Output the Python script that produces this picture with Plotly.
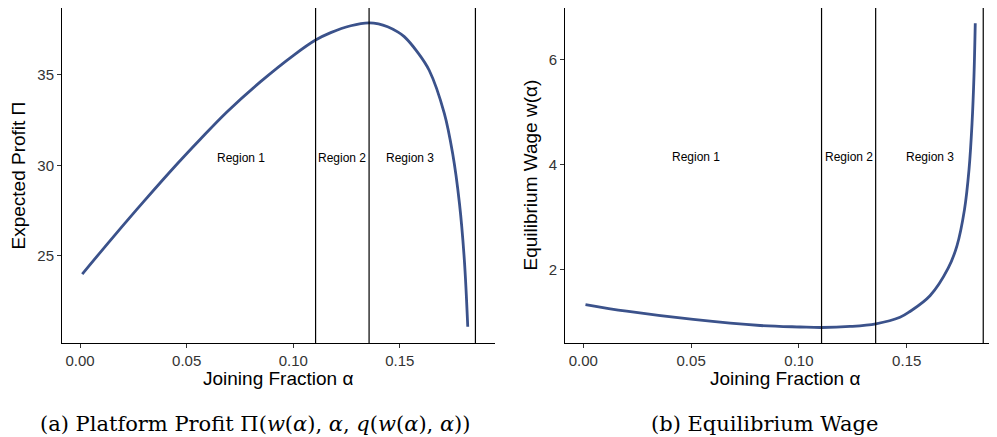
import plotly.graph_objects as go

# ---- data ----
alpha_profit = [0.001, 0.0157, 0.0298, 0.0455, 0.0564, 0.069, 0.0847, 0.1003, 0.1105,
                0.1176, 0.127, 0.1356, 0.1400, 0.1443, 0.149, 0.1521, 0.1584, 0.1638,
                0.1709, 0.1748, 0.178, 0.1803, 0.1819]
profit = [24.0, 26.07, 28.0, 30.08, 31.45, 32.97, 34.63, 36.10, 36.93,
          37.34, 37.72, 37.88, 37.82, 37.66, 37.38, 37.12, 36.25, 35.26,
          32.88, 30.67, 27.91, 24.78, 21.09]

alpha_wage = [0.001, 0.0201, 0.051, 0.082, 0.1005, 0.1106, 0.1237, 0.1357, 0.1469,
              0.1515, 0.1608, 0.1693, 0.1733, 0.1768, 0.1789, 0.1803, 0.1812, 0.1818]
wage = [1.333, 1.206, 1.048, 0.933, 0.905, 0.895, 0.915, 0.966, 1.09,
        1.2, 1.5, 2.03, 2.45, 3.14, 3.9, 4.78, 5.68, 6.69]

region_bounds = [0.1105, 0.1356, 0.1855]
region_labels = ["Region 1", "Region 2", "Region 3"]
region_x_profit = [0.0757, 0.1228, 0.155]
region_y_profit = 30.4
region_x_wage = [0.0523, 0.1232, 0.1608]
region_y_wage = 4.14

x_ticks = [0.0, 0.05, 0.10, 0.15]
x_ticktext = ["0.00", "0.05", "0.10", "0.15"]
profit_ticks = [25, 30, 35]
wage_ticks = [2, 4, 6]

captions = ["(a) Platform Profit Π(<i>w</i>(<i>α</i>), <i>α</i>, <i>q</i>(<i>w</i>(<i>α</i>), <i>α</i>))",
            "(b) Equilibrium Wage"]

# ---- figure ----
# the page body has an 8px margin, so the figure is laid out in page pixels minus 8
OFF = 8
W, H = 989, 429
LINE = "#3B528B"
SANS = "Liberation Sans, Arial, sans-serif"
SERIF = "DejaVu Serif, serif"


def px(p):
    return (p - OFF) / W


def py(p):
    return 1 - (p - OFF) / H


fig = go.Figure()
fig.add_trace(go.Scatter(x=alpha_profit, y=profit, mode="lines",
                         line=dict(color=LINE, width=2.8, shape="spline", smoothing=1.0),
                         xaxis="x", yaxis="y", showlegend=False))
fig.add_trace(go.Scatter(x=alpha_wage, y=wage, mode="lines",
                         line=dict(color=LINE, width=2.8, shape="spline", smoothing=1.0),
                         xaxis="x2", yaxis="y2", showlegend=False))

ydom = [py(343), 1.0]

axis_common = dict(showline=True, linecolor="black", linewidth=1, ticks="outside",
                   ticklen=4, tickcolor="#333", tickwidth=1, showgrid=False, zeroline=False,
                   tickfont=dict(family=SANS, size=15, color="#333"))

fig.update_layout(
    width=W, height=H, margin=dict(l=0, r=0, t=0, b=0),
    paper_bgcolor="white", plot_bgcolor="white",
    xaxis=dict(domain=[px(62), px(494.6)], range=[-0.0085, 0.1945], anchor="y",
               tickvals=x_ticks, ticktext=x_ticktext, **axis_common),
    yaxis=dict(domain=ydom, range=[20.19, 38.7], anchor="x",
               tickvals=profit_ticks, **axis_common),
    xaxis2=dict(domain=[px(565), 1.0], range=[-0.0085, (997 - 583.3) / 2156], anchor="y2",
                tickvals=x_ticks, ticktext=x_ticktext, **axis_common),
    yaxis2=dict(domain=ydom, range=[0.6, 6.98], anchor="x2",
                tickvals=wage_ticks, **axis_common),
)

shapes = []
for xr, yr in [("x", "y"), ("x2", "y2")]:
    for b in region_bounds:
        shapes.append(dict(type="line", xref=xr, yref=yr + " domain",
                           x0=b, x1=b, y0=0, y1=1, line=dict(color="black", width=1.2)))
fig.update_layout(shapes=shapes)

ann = []
for lab, xv in zip(region_labels, region_x_profit):
    ann.append(dict(x=xv, y=region_y_profit, xref="x", yref="y", text=lab, showarrow=False,
                    xanchor="center", yanchor="middle",
                    font=dict(family=SANS, size=12, color="black")))
for lab, xv in zip(region_labels, region_x_wage):
    ann.append(dict(x=xv, y=region_y_wage, xref="x2", yref="y2", text=lab, showarrow=False,
                    xanchor="center", yanchor="middle",
                    font=dict(family=SANS, size=12, color="black")))


def paper_text(x, y, text, font, angle=0):
    return dict(x=px(x), y=py(y), xref="paper", yref="paper", text=text, showarrow=False,
                xanchor="center", yanchor="middle", textangle=angle, font=font)


title_font = dict(family=SANS, size=19, color="black")
ann.append(paper_text(278, 378, "Joining Fraction α", title_font))
ann.append(paper_text(784.5, 378, "Joining Fraction α", title_font))
ann.append(paper_text(18, 175.5, "Expected Profit Π", title_font, -90))
ann.append(paper_text(530, 175.5, "Equilibrium Wage w(α)", title_font, -90))

cap_font = dict(family=SERIF, size=21, color="black")
ann.append(paper_text(256, 424, captions[0], cap_font))
ann.append(paper_text(764.7, 424, captions[1], cap_font))
fig.update_layout(annotations=ann)

fig.write_html("out.html")
